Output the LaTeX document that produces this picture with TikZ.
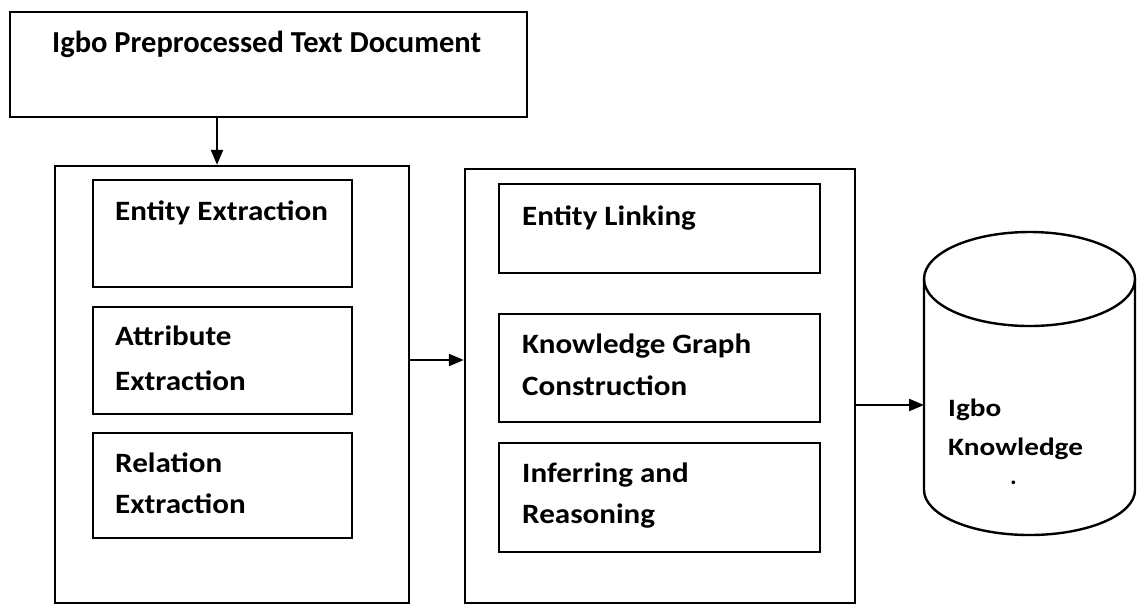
\documentclass[tikz,border=0pt]{standalone}
\usepackage{fontspec}
\setmainfont{Carlito}
\usetikzlibrary{arrows.meta,fit}
\newcommand\sxl[1]{\scalebox{1.11}[1]{#1}}
\newcommand\sxd[1]{\scalebox{1.17}[1]{#1}}
\begin{document}
\begin{tikzpicture}[x=1pt,y=-1pt,
  box/.style={draw=black,line width=2.4pt,inner sep=0pt},
  lbl/.style={anchor=base west,inner sep=0pt,font=\fontsize{28}{34}\selectfont\bfseries},
  toplbl/.style={anchor=base west,inner sep=0pt,font=\fontsize{30.5}{36}\selectfont\bfseries},
  dblbl/.style={anchor=base west,inner sep=0pt,font=\fontsize{25}{30}\selectfont\bfseries},
  arr/.style={line width=2.3pt,-{Triangle[length=15pt,width=12pt]}}]
\useasboundingbox (0,0) rectangle (1137,606);
% boxes
\node[box,fit={(10,12)(527,117)}] (top) {};
\node[box,fit={(55,166)(409,603)}] (left) {};
\node[box,fit={(93,180)(352,287)}] (e1) {};
\node[box,fit={(93,307)(352,414)}] (e2) {};
\node[box,fit={(93,433)(352,538)}] (e3) {};
\node[box,fit={(465,169)(855,603)}] (mid) {};
\node[box,fit={(499,184)(820,273)}] (m1) {};
\node[box,fit={(499,314)(820,422)}] (m2) {};
\node[box,fit={(499,443)(820,552)}] (m3) {};
% labels
\node[toplbl] (ttop) at (52,52) {Igbo Preprocessed Text Document};
\node[lbl] (te1) at (115,220) {\sxl{Entity Extraction}};
\node[lbl] (te2a) at (115,345) {\sxl{Attribute}};
\node[lbl] (te2b) at (115,390) {\sxl{Extraction}};
\node[lbl] (te3a) at (115,472) {\sxl{Relation}};
\node[lbl] (te3b) at (115,513) {\sxl{Extraction}};
\node[lbl] (tm1) at (522,225) {\sxl{Entity Linking}};
\node[lbl] (tm2a) at (522,353) {\sxl{Knowledge Graph}};
\node[lbl] (tm2b) at (522,395) {\sxl{Construction}};
\node[lbl] (tm3a) at (522,482) {\sxl{Inferring and}};
\node[lbl] (tm3b) at (522,523) {\sxl{Reasoning}};
% cylinder
\draw[line width=2.4pt] (1029.5,279) ellipse [x radius=105.5pt, y radius=47pt];
\draw[line width=2.4pt] (924,279) -- (924,490) arc[start angle=180,end angle=360,x radius=105.5pt,y radius=45pt] -- (1135,279);
\node[dblbl] (tdba) at (948,416) {\sxd{Igbo}};
\node[dblbl] (tdbb) at (948,455) {\sxd{Knowledge}};
\node[dblbl] (tdbc) at (1010,484) {.};
% connectors
\coordinate (a) at (217,0);
\coordinate (r1) at (0,360);
\coordinate (dbin) at (924,405);
\draw[arr] (top.south -| a) -- (left.north -| a);
\draw[arr] (left.east |- r1) -- (mid.west |- r1);
\draw[arr] (mid.east |- dbin) -- (dbin);
\end{tikzpicture}
\end{document}
